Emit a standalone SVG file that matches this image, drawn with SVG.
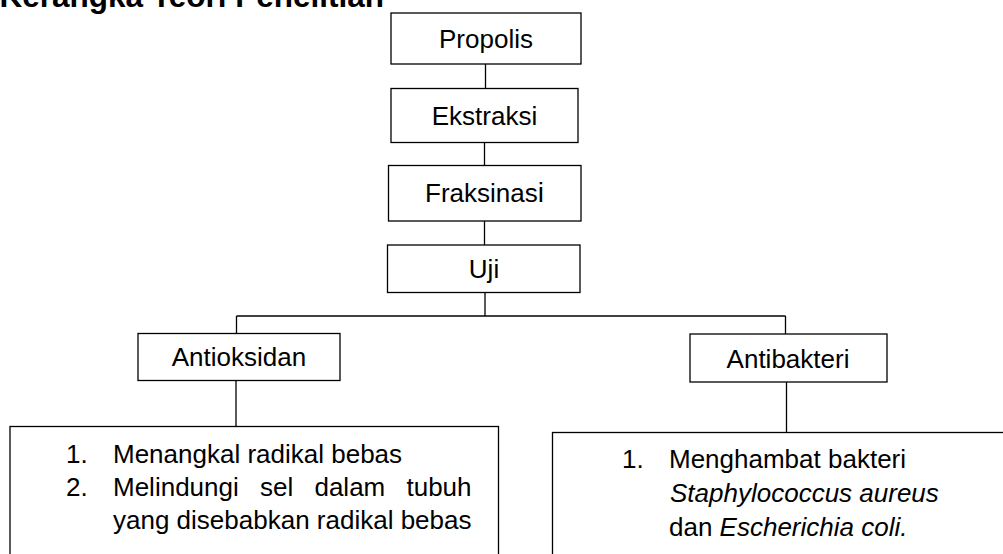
<svg xmlns="http://www.w3.org/2000/svg" width="1003" height="554" viewBox="0 0 1003 554">
<style>
.box{fill:#fff;stroke:#000;stroke-width:1.3}
.lbl{font-family:"Liberation Sans",Arial,sans-serif;font-size:26px;fill:#000;text-anchor:middle}
.txt{font-family:"Liberation Sans",Arial,sans-serif;font-size:26px;fill:#000}
.it{font-style:italic}
.conn line{stroke:#000;stroke-width:1.3}
.title{font-family:"Liberation Sans",Arial,sans-serif;font-size:31.5px;font-weight:bold;fill:#000}
</style>
<rect width="1003" height="554" fill="#fff"/>
<text class="title" x="-0.5" y="6.5">Kerangka Teori Penelitian</text>
<g class="conn" id="connectors">
<line x1="485.5" y1="64" x2="485.5" y2="88.5"/>
<line x1="484.5" y1="142.5" x2="484.5" y2="165.5"/>
<line x1="484.5" y1="221" x2="484.5" y2="245"/>
<line x1="485" y1="292.5" x2="485" y2="316"/>
<line x1="236.5" y1="316" x2="785.5" y2="316"/>
<line x1="236.5" y1="316" x2="236.5" y2="333.5"/>
<line x1="785.5" y1="316" x2="785.5" y2="334"/>
<line x1="236" y1="380.5" x2="236" y2="426.5"/>
<line x1="786.5" y1="382" x2="786.5" y2="432.5"/>
</g>
<g id="propolis"><rect class="box" x="391" y="13" width="190" height="51"/><text class="lbl" x="486" y="48">Propolis</text></g>
<g id="ekstraksi"><rect class="box" x="391" y="88.5" width="187" height="54"/><text class="lbl" x="484.5" y="125">Ekstraksi</text></g>
<g id="fraksinasi"><rect class="box" x="388.5" y="165.5" width="192.5" height="55.5"/><text class="lbl" x="484.5" y="202">Fraksinas<tspan font-size="28">i</tspan></text></g>
<g id="uji"><rect class="box" x="387.5" y="245" width="192.5" height="47.5"/><text class="lbl" x="484" y="278">Uji</text></g>
<g id="antioksidan"><rect class="box" x="138" y="333.5" width="202" height="47"/><text class="lbl" x="239" y="366">Antioksidan</text></g>
<g id="antibakteri"><rect class="box" x="690" y="334" width="197" height="48"/><text class="lbl" x="788" y="368">Antibakteri</text></g>
<g id="antioksidan-detail">
<rect class="box" x="10" y="426.5" width="488.5" height="140"/>
<text class="txt" x="66" y="463">1.</text>
<text class="txt" x="113" y="463">Menangkal radikal bebas</text>
<text class="txt" x="66" y="496">2.</text>
<text class="txt" x="113" y="496" word-spacing="14">Melindungi sel dalam tubuh</text>
<text class="txt" x="113" y="529">yang disebabkan radikal bebas</text>
</g>
<g id="antibakteri-detail">
<rect class="box" x="552.5" y="432.5" width="470" height="140"/>
<text class="txt" x="622" y="468">1.</text>
<text class="txt" x="669" y="468">Menghambat bakteri</text>
<text class="txt it" x="670" y="502">Staphylococcus aureus</text>
<text class="txt" x="669" y="536">dan <tspan class="it">Escherichia coli.</tspan></text>
</g>
</svg>
